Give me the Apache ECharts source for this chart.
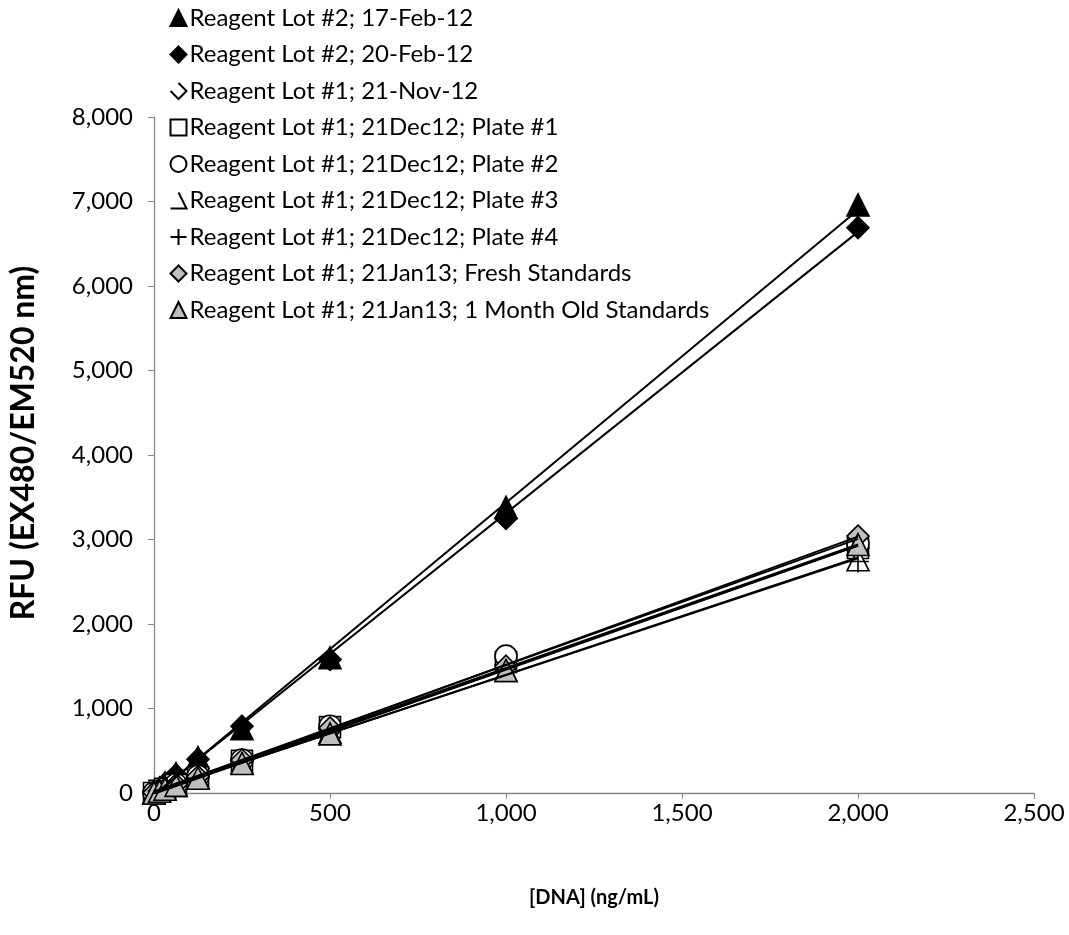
<!DOCTYPE html>
<html>
<head>
<meta charset="utf-8">
<script src="https://cdn.jsdelivr.net/npm/echarts@6/dist/echarts.min.js"></script>
<style>
html,body{margin:0;padding:0;background:#fff;}
#chart{width:1069px;height:935px;}
</style>
</head>
<body>
<div id="chart"></div>
<script>
// ---- data ----
var dnaConc = [0, 15.625, 31.25, 62.5, 125, 250, 500, 1000, 2000];
var seriesNames = [
  'Reagent Lot #2; 17-Feb-12',
  'Reagent Lot #2; 20-Feb-12',
  'Reagent Lot #1; 21-Nov-12',
  'Reagent Lot #1; 21Dec12; Plate #1',
  'Reagent Lot #1; 21Dec12; Plate #2',
  'Reagent Lot #1; 21Dec12; Plate #3',
  'Reagent Lot #1; 21Dec12; Plate #4',
  'Reagent Lot #1; 21Jan13; Fresh Standards',
  'Reagent Lot #1; 21Jan13; 1 Month Old Standards'
];
var lot2Feb17 = [10, 60, 120, 230, 420, 760, 1600, 3380, 6960];
var lot2Feb20 = [15, 55, 110, 215, 400, 790, 1580, 3250, 6690];
var lot1Nov21 = [5, 25, 50, 95, 190, 380, 760, 1520, 2900];
var plate1 = [0, 25, 50, 95, 185, 380, 780, 1550, 2900];
var plate2 = [0, 25, 50, 100, 200, 390, 790, 1620, 2950];
var plate3 = [0, 20, 45, 90, 180, 360, 720, 1450, 2760];
var plate4 = [0, 20, 45, 90, 180, 360, 730, 1460, 2740];
var freshStd = [5, 25, 50, 100, 195, 390, 770, 1500, 3040];
var oldStd = [0, 20, 45, 90, 175, 350, 700, 1450, 2940];
var xTicks = [0, 500, 1000, 1500, 2000, 2500];
var yTicks = [0, 1000, 2000, 3000, 4000, 5000, 6000, 7000, 8000];

var allValues = [lot2Feb17, lot2Feb20, lot1Nov21, plate1, plate2, plate3, plate4, freshStd, oldStd];

var GRAY = '#bfbfbf';
var PLUS = 'path://M5,0 L5,10 M0,5 L10,5';
var styles = [
  {symbol: 'triangle', color: '#000', border: '#000', size: 22},
  {symbol: 'diamond', color: '#000', border: '#000', size: 22},
  {symbol: 'diamond', color: '#fff', border: '#000', size: 22},
  {symbol: 'rect', color: '#fff', border: '#000', size: 21},
  {symbol: 'circle', color: '#fff', border: '#000', size: 22},
  {symbol: 'triangle', color: '#fff', border: '#000', size: 22},
  {symbol: PLUS, color: 'none', border: '#000', size: 22},
  {symbol: 'diamond', color: GRAY, border: '#000', size: 22},
  {symbol: 'triangle', color: GRAY, border: '#000', size: 22}
];
var legendIcons = [
  'triangle', 'diamond', 'path://M5,0 L10,5 L5,10 L0,5', 'rect', 'circle',
  'path://M5,0 L10,10 L0,10', PLUS, 'diamond', 'triangle'
];

function fmt(v){ return String(v).replace(/\B(?=(\d{3})+(?!\d))/g, ','); }

function linFit(xs, ys){
  var n = xs.length, sx=0, sy=0, sxx=0, sxy=0;
  for (var i=0;i<n;i++){ sx+=xs[i]; sy+=ys[i]; sxx+=xs[i]*xs[i]; sxy+=xs[i]*ys[i]; }
  var b = (n*sxy - sx*sy)/(n*sxx - sx*sx);
  var a = (sy - b*sx)/n;
  return [[xs[0], a + b*xs[0]], [xs[n-1], a + b*xs[n-1]]];
}

var series = [];
allValues.forEach(function(vals, i){
  var st = styles[i];
  series.push({
    name: seriesNames[i],
    type: 'line',
    data: dnaConc.map(function(x, j){ return [x, vals[j]]; }),
    lineStyle: {width: 0, opacity: 0},
    symbol: st.symbol,
    symbolSize: st.size,
    showAllSymbol: true,
    clip: false,
    z: 3 + i,
    itemStyle: {color: st.color, borderColor: st.border, borderWidth: 1.6, opacity: 1},
    emphasis: {disabled: true},
    animation: false
  });
});
allValues.forEach(function(vals, i){
  series.push({
    name: 'trend' + i,
    type: 'line',
    data: linFit(dnaConc, vals),
    symbol: 'none',
    lineStyle: {color: '#000', width: 2},
    z: 20,
    silent: true,
    animation: false
  });
});

var chart = echarts.init(document.getElementById('chart'));
chart.setOption({
  backgroundColor: '#fff',
  animation: false,
  textStyle: {fontFamily: 'Lato'},
  grid: {left: 148, right: 35, top: 117, bottom: 142},
  legend: {
    orient: 'vertical',
    left: 163,
    top: 1,
    itemWidth: 16,
    itemHeight: 16,
    itemGap: 12.5,
    selectedMode: false,
    textStyle: {fontFamily: 'Lato', fontSize: 24, color: '#000', lineHeight: 24, padding: [0, 0, 0, -2]},
    data: seriesNames.map(function(n, i){ return {name: n, icon: legendIcons[i]}; })
  },
  xAxis: {
    type: 'value',
    min: xTicks[0],
    max: xTicks[xTicks.length - 1],
    interval: 500,
    name: '[DNA] (ng/mL)',
    nameLocation: 'middle',
    nameGap: 95,
    nameTextStyle: {fontFamily: 'Lato', fontSize: 20, fontWeight: 'bold', color: '#000'},
    axisLine: {show: true, onZero: false, lineStyle: {color: '#868686', width: 1.3}},
    axisTick: {show: true, length: 6, lineStyle: {color: '#868686'}},
    axisLabel: {fontFamily: 'Lato', fontSize: 24, color: '#000', margin: 8, formatter: fmt},
    splitLine: {show: false}
  },
  yAxis: {
    type: 'value',
    min: yTicks[0],
    max: yTicks[yTicks.length - 1],
    interval: 1000,
    name: 'RFU (EX480/EM520 nm)',
    nameLocation: 'middle',
    nameGap: 114,
    nameTextStyle: {fontFamily: 'Lato', fontSize: 32, fontWeight: 'bold', color: '#000', padding: [0, 0, 0, 24]},
    axisLine: {show: true, lineStyle: {color: '#868686', width: 1.3}},
    axisTick: {show: true, length: 6, lineStyle: {color: '#868686'}},
    axisLabel: {fontFamily: 'Lato', fontSize: 24, color: '#000', margin: 21, formatter: fmt},
    splitLine: {show: false}
  },
  series: series
});
</script>
</body>
</html>
